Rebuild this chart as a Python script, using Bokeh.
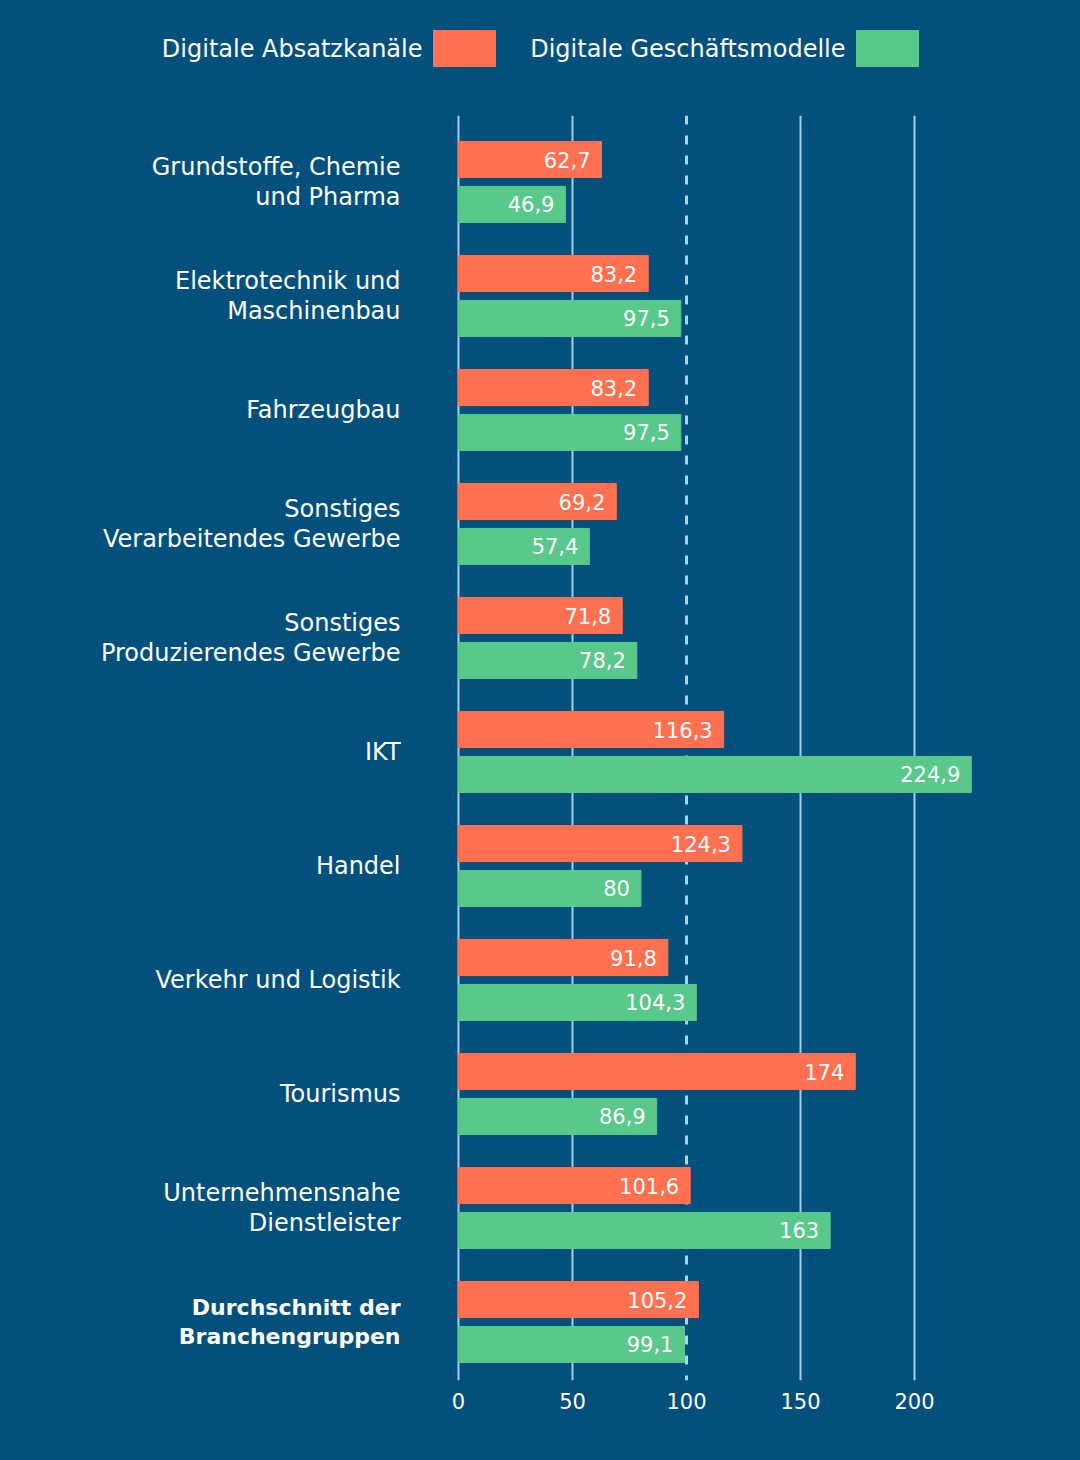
from bokeh.plotting import figure
from bokeh.models import Range1d, FixedTicker, Span, ColumnDataSource
from bokeh.layouts import column
from bokeh.core.properties import value
from bokeh.embed import file_html
from bokeh.resources import INLINE

# ---------------- data ----------------
categories = [
    "Grundstoffe, Chemie\nund Pharma",
    "Elektrotechnik und\nMaschinenbau",
    "Fahrzeugbau",
    "Sonstiges\nVerarbeitendes Gewerbe",
    "Sonstiges\nProduzierendes Gewerbe",
    "IKT",
    "Handel",
    "Verkehr und Logistik",
    "Tourismus",
    "Unternehmensnahe\nDienstleister",
    "Durchschnitt der\nBranchengruppen",
]
absatz = [62.7, 83.2, 83.2, 69.2, 71.8, 116.3, 124.3, 91.8, 174, 101.6, 105.2]
geschaeft = [46.9, 97.5, 97.5, 57.4, 78.2, 224.9, 80, 104.3, 86.9, 163, 99.1]
series_names = ["Digitale Absatzkanäle", "Digitale Geschäftsmodelle"]
x_ticks = [0, 50, 100, 150, 200]
reference_line = 100

# ---------------- style ----------------
BG = "#03507c"
ORANGE = "#ff7150"
GREEN = "#58c98b"
GRID = "#a6cce8"
DASH = "#b3d1e6"
FONT = "DejaVu Sans"


def fmt(v):
    if float(v).is_integer():
        return str(int(v))
    return ("%.1f" % v).replace(".", ",")


W = 1080

# ---------------- legend figure ----------------
LH = 108
leg = figure(width=W, height=LH, output_backend="svg", toolbar_location=None,
             x_range=Range1d(0, W), y_range=Range1d(LH, 0),
             min_border=0, background_fill_color=BG, border_fill_color=BG,
             outline_line_color=None, x_axis_location=None, y_axis_location=None)
leg.xgrid.visible = False
leg.ygrid.visible = False
leg_src = ColumnDataSource(dict(
    name=series_names,
    color=[ORANGE, GREEN],
    tx=[422, 845],
    left=[433, 856],
    right=[495, 918],
))
leg.quad(left="left", right="right", top=30, bottom=66, color="color", source=leg_src)
leg.text(x="tx", y=48, text="name", source=leg_src, text_align="right",
         text_baseline="middle", text_color="white", text_font=value(FONT),
         text_font_size="24px")

# ---------------- main figure ----------------
H = 1460 - LH
n = len(categories)
p = figure(width=W, height=H, output_backend="svg", toolbar_location=None,
           x_range=Range1d(-200.9, 272.8), y_range=Range1d(n - 0.487, -0.583),
           min_border_left=0, min_border_right=0, min_border_top=7,
           min_border_bottom=80, background_fill_color=BG, border_fill_color=BG,
           outline_line_color=None, y_axis_location=None)

p.ygrid.visible = False
p.xgrid.ticker = FixedTicker(ticks=[t for t in x_ticks if t != reference_line])
p.xgrid.grid_line_color = GRID
p.xgrid.grid_line_width = 2

ax = p.xaxis[0]
ax.ticker = FixedTicker(ticks=x_ticks)
ax.axis_line_color = None
ax.major_tick_line_color = None
ax.minor_tick_line_color = None
ax.major_label_text_color = "white"
ax.major_label_text_font = FONT
ax.major_label_text_font_size = "21px"
ax.major_label_standoff = 6

p.add_layout(Span(location=reference_line, dimension="height", line_color=DASH,
                  line_width=3, line_dash="9 11", level="underlay"))

idx = list(range(n))
src = ColumnDataSource(dict(
    y_a=[i - 0.197 for i in idx],
    y_g=[i + 0.197 for i in idx],
    a=absatz,
    g=geschaeft,
    la=[fmt(v) for v in absatz],
    lg=[fmt(v) for v in geschaeft],
))
p.hbar(y="y_a", left=0, right="a", height=0.316, color=ORANGE, source=src)
p.hbar(y="y_g", left=0, right="g", height=0.316, color=GREEN, source=src)
for xf, yf, tf in (("a", "y_a", "la"), ("g", "y_g", "lg")):
    p.text(x=xf, y=yf, text=tf, source=src, text_align="right",
           text_baseline="middle", x_offset=-11, text_color="white",
           text_font=value(FONT), text_font_size="21px")

cat_src = ColumnDataSource(dict(
    y=idx[:-1],
    label=categories[:-1],
))
p.text(x=0, y="y", text="label", source=cat_src, x_offset=-58,
       text_align="right", text_baseline="middle", text_color="white",
       text_font=value(FONT), text_font_size="24px", text_line_height=1.04)

avg_src = ColumnDataSource(dict(y=idx[-1:], label=categories[-1:]))
p.text(x=0, y="y", text="label", source=avg_src, x_offset=-58,
       text_align="right", text_baseline="middle", text_color="white",
       text_font=value(FONT), text_font_size="22px", text_font_style="bold",
       text_line_height=1.15)

layout = column(leg, p, spacing=0)
html = file_html(layout, INLINE)
html = html.replace(
    "<head>",
    "<head><style>html, body { background-color: %s; }</style>" % BG, 1)
open("out.html", "w").write(html)
